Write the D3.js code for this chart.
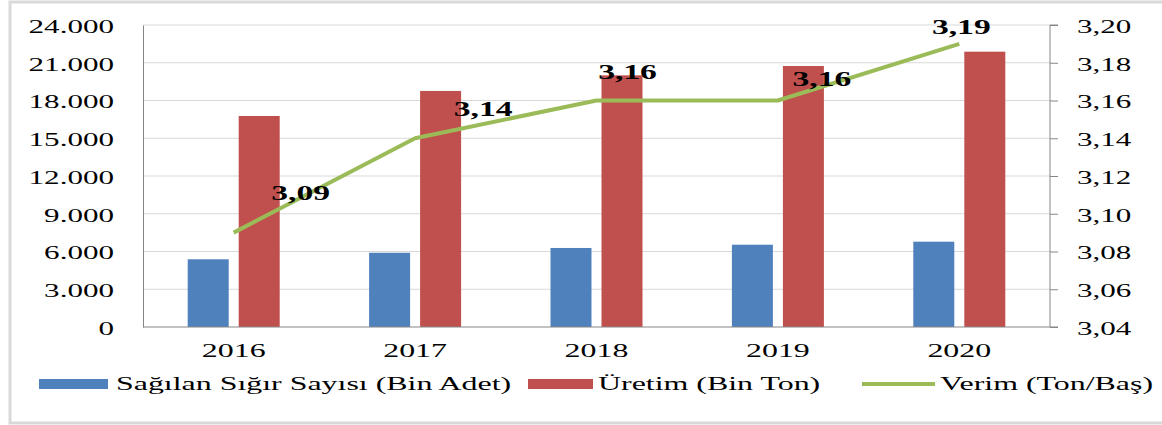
<!DOCTYPE html>
<html>
<head>
<meta charset="utf-8">
<script src="https://cdn.jsdelivr.net/npm/d3@7"></script>
<style>
  body { margin: 0; background: #fff; }
  text { font-family: "Liberation Serif", "Times New Roman", serif; fill: #000; }
</style>
</head>
<body>
<div id="chart"></div>
<script>
// values
const years=["2016", "2017", "2018", "2019", "2020"];
const sagilan=[5380, 5900, 6280, 6540, 6780];      // Sağılan Sığır Sayısı (Bin Adet)
const uretim=[16770, 18760, 20000, 20740, 21880];  // Üretim (Bin Ton)
const verim=[3.09, 3.14, 3.16, 3.16, 3.19];        // Verim (Ton/Baş)
const leftTicks=[0, 3000, 6000, 9000, 12000, 15000, 18000, 21000, 24000];
const rightTicks=[3.04, 3.06, 3.08, 3.10, 3.12, 3.14, 3.16, 3.18, 3.20];
const seriesNames=["Sağılan Sığır Sayısı (Bin Adet)", "Üretim (Bin Ton)", "Verim (Ton/Baş)"];

// hand-placed label offsets, as in the source chart
const labelNudge=[[67, -33], [68, -22], [31, -22], [44, -15], [2, -10]];

const W=1162, H=425;
const SX=1.68; // source picture is stretched sideways
const blue="#4f81bd", red="#c0504d", green="#9bbb59";

const tr=d3.formatLocale({decimal: ",", thousands: ".", grouping: [3], currency: ["", ""]});
const fmtLeft=tr.format(",.0f");
const fmtRight=tr.format(".2f");

const svg=d3.select("#chart").append("svg")
    .attr("width", W)
    .attr("height", H);

svg.append("rect")
    .attr("width", W).attr("height", H)
    .attr("fill", "#fff");

// outer frame
svg.append("path")
    .attr("d", `M${W+5},2 H10 V423 H${W+5}`)
    .attr("fill", "none")
    .attr("stroke", "#d9d9d9")
    .attr("stroke-width", 3);

const plot={left: 143, right: 1050, top: 25, bottom: 327};

const x=d3.scaleBand()
    .domain(years)
    .range([plot.left, plot.right]);

const y=d3.scaleLinear()
    .domain([0, 24000])
    .range([plot.bottom, plot.top]);

const y2=d3.scaleLinear()
    .domain([3.04, 3.20])
    .range([plot.bottom, plot.top]);

// gridlines
svg.append("g")
    .selectAll("line")
    .data(leftTicks.slice(1))
    .enter().append("line")
    .attr("x1", plot.left).attr("x2", plot.right)
    .attr("y1", d => y(d)).attr("y2", d => y(d))
    .attr("stroke", "#d9d9d9")
    .attr("stroke-width", 1);

// bars
const barW=41, gap=5;
svg.append("g")
    .selectAll("rect")
    .data(sagilan)
    .enter().append("rect")
    .attr("x", (d, i) => x(years[i])+x.bandwidth()/2-gap-barW)
    .attr("y", d => y(d))
    .attr("width", barW)
    .attr("height", d => y(0)-y(d))
    .attr("fill", blue);

svg.append("g")
    .selectAll("rect")
    .data(uretim)
    .enter().append("rect")
    .attr("x", (d, i) => x(years[i])+x.bandwidth()/2+gap)
    .attr("y", d => y(d))
    .attr("width", barW)
    .attr("height", d => y(0)-y(d))
    .attr("fill", red);

// axes
const leftAxis=svg.append("g")
    .attr("transform", `translate(${plot.left},0)`)
    .call(d3.axisLeft(y).tickValues(leftTicks).tickSize(0).tickFormat(fmtLeft));
leftAxis.select(".domain").attr("stroke", "#868686");
leftAxis.selectAll("text")
    .attr("x", null).attr("dy", "0.34em")
    .attr("transform", `translate(-29,1) scale(${SX},1)`)
    .style("font-size", "18.5px");

const rightAxis=svg.append("g")
    .attr("transform", `translate(${plot.right},0)`)
    .call(d3.axisRight(y2).tickValues(rightTicks).tickSize(8).tickFormat(fmtRight));
rightAxis.selectAll(".domain, line").attr("stroke", "#868686");
rightAxis.select(".domain").attr("d", `M8,${plot.top}H0V${plot.bottom}H8`);
rightAxis.selectAll("text")
    .attr("x", null).attr("dy", "0.34em")
    .attr("transform", `translate(27,1) scale(${SX},1)`)
    .style("font-size", "18.5px");

const bottomAxis=svg.append("g")
    .attr("transform", `translate(0,${plot.bottom})`)
    .call(d3.axisBottom(x).tickSize(0));
bottomAxis.select(".domain").attr("stroke", "#868686").attr("d", `M${plot.left},0H${plot.right}`);
bottomAxis.selectAll("text")
    .attr("y", null).attr("dy", null)
    .attr("transform", `translate(0,30) scale(${SX},1)`)
    .style("font-size", "19px");

// verim line
const line=d3.line()
    .x((d, i) => x(years[i])+x.bandwidth()/2)
    .y(d => y2(d));

svg.append("path")
    .datum(verim)
    .attr("d", line)
    .attr("fill", "none")
    .attr("stroke", green)
    .attr("stroke-width", 4)
    .attr("stroke-linejoin", "round");

svg.append("g")
    .selectAll("text")
    .data(verim)
    .enter().append("text")
    .attr("text-anchor", "middle")
    .attr("transform", (d, i) => {
        const px=x(years[i])+x.bandwidth()/2+labelNudge[i][0];
        const py=y2(d)+labelNudge[i][1];
        return `translate(${px},${py}) scale(${SX},1)`;
    })
    .style("font-size", "20px")
    .style("font-weight", "bold")
    .text(d => fmtRight(d));

// legend
const legendX=[39, 528, 862];
const legend=svg.append("g")
    .selectAll("g")
    .data(seriesNames)
    .enter().append("g")
    .attr("transform", (d, i) => `translate(${legendX[i]},384)`);

legend.filter((d, i) => i<2).append("rect")
    .attr("y", -5)
    .attr("width", (d, i) => i===0? 69:65)
    .attr("height", 10)
    .attr("fill", (d, i) => i===0? blue:red);

legend.filter((d, i) => i===2).append("line")
    .attr("x1", 0).attr("x2", 73)
    .attr("stroke", green)
    .attr("stroke-width", 4);

legend.append("text")
    .attr("transform", (d, i) => `translate(${[77, 70, 78][i]},6) scale(${SX},1)`)
    .style("font-size", "19px")
    .text(d => d);
</script>
</body>
</html>
